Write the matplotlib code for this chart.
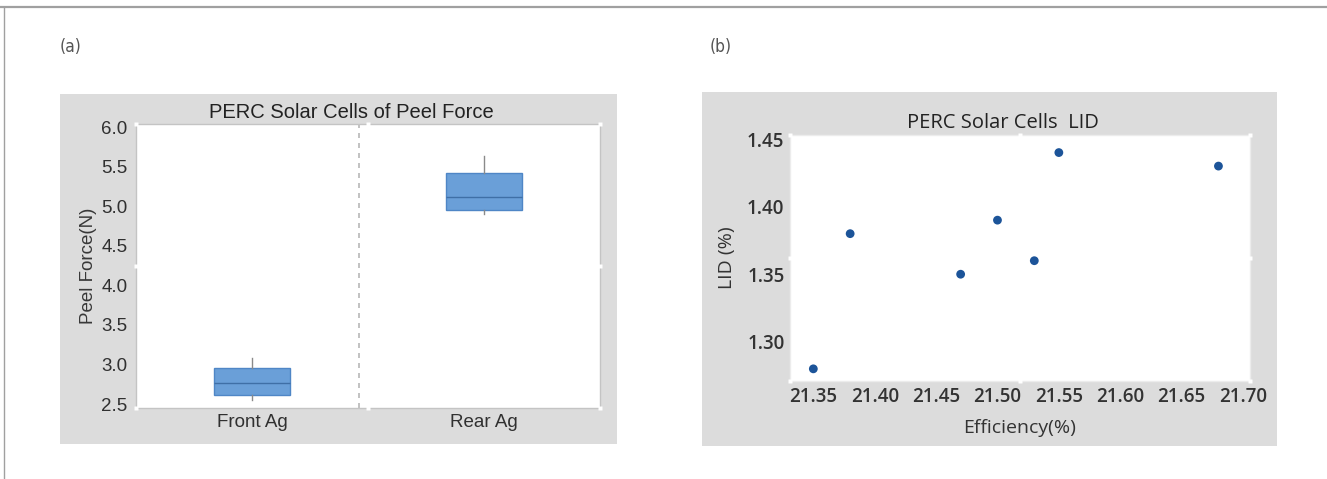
import matplotlib
matplotlib.use("Agg")
import matplotlib.pyplot as plt
from matplotlib.patches import Rectangle
from matplotlib.lines import Line2D

# Peel force box statistics
groups = ["Front Ag", "Rear Ag"]
whisker_low = [2.55, 4.90]
quartile1 = [2.62, 4.95]
medians = [2.77, 5.12]
quartile3 = [2.95, 5.42]
whisker_high = [3.08, 5.63]
peel_ticks = [2.5, 3.0, 3.5, 4.0, 4.5, 5.0, 5.5, 6.0]

# LID versus efficiency
efficiency = [21.35, 21.38, 21.47, 21.50, 21.53, 21.55, 21.68]
lid = [1.28, 1.38, 1.35, 1.39, 1.36, 1.44, 1.43]
eff_ticks = [21.35, 21.40, 21.45, 21.50, 21.55, 21.60, 21.65, 21.70]
lid_ticks = [1.30, 1.35, 1.40, 1.45]

W, H = 1327, 479
fig = plt.figure(figsize=(W / 100, H / 100), dpi=100)
fig.patch.set_facecolor("white")


def px_rect(x0, y0, x1, y1):
    """Convert a pixel box (top-left origin) to figure fractions."""
    return [x0 / W, 1 - y1 / H, (x1 - x0) / W, (y1 - y0) / H]


def frame_marks(ax):
    """Small white marks around the plotting frame."""
    pts = [(0, 0), (0.5, 0), (1, 0), (0, 0.5), (1, 0.5), (0, 1), (0.5, 1), (1, 1)]
    for x, y in pts:
        ax.plot([x], [y], marker="s", ms=3.5, color="white", mec="none",
                transform=ax.transAxes, clip_on=False, zorder=5)


# outer frame lines
fig.add_artist(Line2D([0, 1], [1 - 7 / H, 1 - 7 / H], color="#a0a0a0", lw=1.6,
                      transform=fig.transFigure))
fig.add_artist(Line2D([4 / W, 4 / W], [0, 1 - 7 / H], color="#a0a0a0", lw=1.0,
                      transform=fig.transFigure))

panel_grey = "#dcdcdc"
for box in [(60, 94, 617, 444), (702, 92, 1277, 446)]:
    l, b, w, h = px_rect(*box)
    fig.add_artist(Rectangle((l, b), w, h, transform=fig.transFigure,
                             facecolor=panel_grey, edgecolor="none", zorder=0))

label_font = dict(family="DejaVu Sans", fontstretch="condensed",
                  fontweight="light", color="#555555", fontsize=12.5)
fig.text(60 / W, 1 - 47 / H, "(a)", ha="left", va="center", **label_font)
fig.text(710 / W, 1 - 47 / H, "(b)", ha="left", va="center", **label_font)

# ---- (a) peel force box plot ----
ax1 = fig.add_axes(px_rect(136, 124, 600, 408))
ax1.set_facecolor("white")
stats = []
for i, name in enumerate(groups):
    stats.append(dict(label=name, whislo=whisker_low[i], q1=quartile1[i],
                      med=medians[i], q3=quartile3[i], whishi=whisker_high[i],
                      fliers=[]))
ax1.bxp(stats, positions=[0, 1], widths=0.33, patch_artist=True,
        showcaps=False, showfliers=False,
        boxprops=dict(facecolor="#6a9fd8", edgecolor="#4f86c6", linewidth=1.0),
        medianprops=dict(color="#3f6fa6", linewidth=1.0),
        whiskerprops=dict(color="#8a8a8a", linewidth=1.0))
ax1.axvline(0.46, color="#b8b8b8", lw=1.2, ls=(0, (3, 3)), zorder=0)
ax1.set_xlim(-0.5, 1.5)
ax1.set_ylim(2.45, 6.04)
ax1.set_yticks(peel_ticks)
ax1.set_yticklabels([f"{t:.1f}" for t in peel_ticks])
ax1.set_xticks([0, 1])
ax1.set_xticklabels(groups)
ax1.tick_params(length=0, labelsize=13.5, colors="#303030", pad=6)
ax1.tick_params(axis="x", pad=4)
for lab in ax1.get_xticklabels() + ax1.get_yticklabels():
    lab.set_family("Liberation Sans")
ax1.set_ylabel("Peel Force(N)", fontsize=13.5, color="#383838",
               family="Liberation Sans", labelpad=3)
ax1.set_title("PERC Solar Cells of Peel Force", fontsize=14.5, color="#222222",
              family="Liberation Sans", pad=4, x=0.465)
for s in ax1.spines.values():
    s.set_color("#c4c4c4")
    s.set_linewidth(1.0)
frame_marks(ax1)

# ---- (b) LID scatter ----
ax2 = fig.add_axes(px_rect(790, 135, 1250, 381))
ax2.set_facecolor("white")
ax2.scatter(efficiency, lid, s=40, color="#1c5499", edgecolors="none", zorder=3)
ax2.set_xlim(21.331, 21.7057)
ax2.set_ylim(1.271, 1.453)
ax2.set_xticks(eff_ticks)
ax2.set_xticklabels([f"{t:.2f}" for t in eff_ticks])
ax2.set_yticks(lid_ticks)
ax2.set_yticklabels([f"{t:.2f}" for t in lid_ticks])
ax2.tick_params(length=0, labelsize=13.5, colors="#333333", pad=4)
for lab in ax2.get_xticklabels() + ax2.get_yticklabels():
    lab.set_family("Open Sans")
    lab.set_fontweight("semibold")
ax2.set_xlabel("Efficiency(%)", fontsize=14, color="#333333",
               family="Open Sans", labelpad=9)
ax2.set_ylabel("LID (%)", fontsize=14, color="#333333",
               family="Open Sans", labelpad=8)
ax2.set_title("PERC Solar Cells  LID", fontsize=14.5, color="#222222",
              family="Open Sans", pad=5, x=0.462)
for s in ax2.spines.values():
    s.set_color("#ececec")
    s.set_linewidth(1.0)
frame_marks(ax2)

fig.savefig("out.png", dpi=100)
